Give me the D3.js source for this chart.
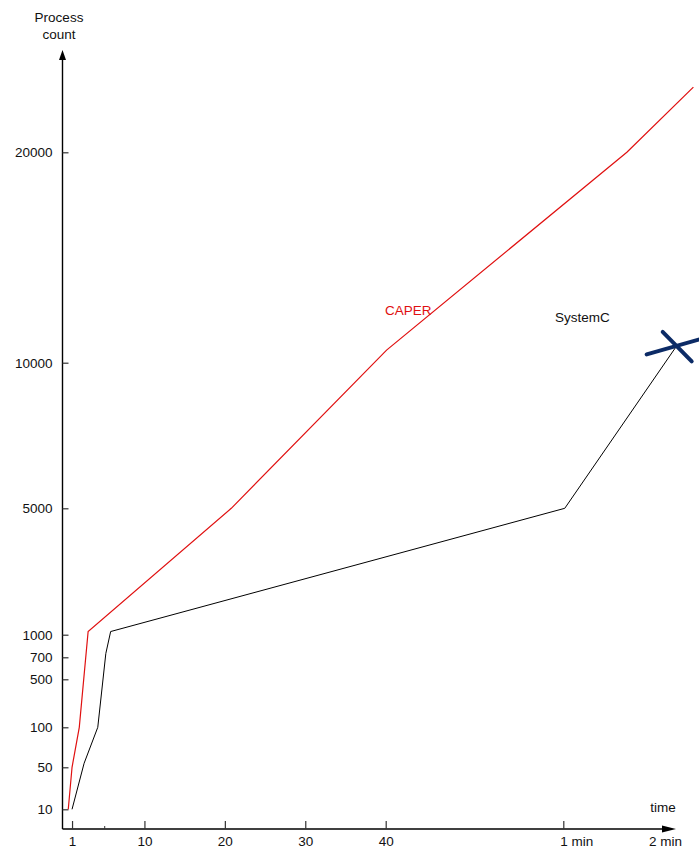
<!DOCTYPE html>
<html>
<head>
<meta charset="utf-8">
<script src="https://cdn.jsdelivr.net/npm/d3@7"></script>
<style>
  body { margin: 0; background: #fff; }
  svg text { font-family: "Liberation Sans", Arial, sans-serif; font-size: 13.5px; fill: #111; }
</style>
</head>
<body>
<svg id="chart" width="699" height="850"></svg>
<script>
// time in seconds, values = process count
const caperTime = [0.53, 1.0, 1.9, 3.0, 20.8, 40.1, 103, 148];
const caperCount = [10, 50, 100, 1100, 5000, 10600, 20000, 23100];
const systemcTime = [1.0, 2.5, 4.2, 5.2, 5.8, 61, 136.7];
const systemcCount = [10, 55, 100, 750, 1100, 5000, 10800];

const yTicks = [10, 50, 100, 500, 700, 1000, 5000, 10000, 20000];
const xTicks = [1, 10, 20, 30, 40, 60, 120];
const xTickLabels = ['1', '10', '20', '30', '40', '1 min', '2 min'];
const xMinorTicks = [5];

const svg = d3.select('#chart');

// broken scales, same as the hand drawn original
const x = d3.scaleLinear().domain([0, 40, 60, 120]).range([64, 385.7, 563.3, 652]);
const y = d3.scaleLinear()
  .domain(yTicks)
  .range([809.3, 767.3, 727.3, 679.3, 657.3, 634.7, 508.3, 362.7, 152.3]);

const X0 = 62.5, Y0 = 829;

// ─── axes ────────────────────────────────────────────────────────────────────
svg.append('line').attr('x1', X0).attr('x2', X0).attr('y1', 58).attr('y2', Y0)
  .attr('stroke', '#000').attr('stroke-width', 1.4);
svg.append('path').attr('d', `M${X0},50 L${X0 - 3.5},60 L${X0 + 3.5},60 Z`).attr('fill', '#000');
svg.append('line').attr('x1', X0).attr('x2', 664).attr('y1', Y0).attr('y2', Y0)
  .attr('stroke', '#000').attr('stroke-width', 1.4);
svg.append('path').attr('d', `M676,${Y0} L662,${Y0 - 3.5} L662,${Y0 + 3.5} Z`).attr('fill', '#000');

const yAxis = svg.append('g').attr('transform', `translate(${X0},0)`)
  .call(d3.axisLeft(y).tickValues(yTicks).tickFormat(d3.format('d')).tickSize(7).tickPadding(3));
yAxis.select('.domain').remove();
yAxis.selectAll('.tick line').attr('x2', 6).attr('stroke', '#333').attr('stroke-width', 1.2);

const xAxis = svg.append('g').attr('transform', `translate(0,${Y0})`)
  .call(d3.axisBottom(x).tickValues(xTicks).tickFormat((d, i) => xTickLabels[i]).tickSize(-8).tickPadding(7));
xAxis.select('.domain').remove();
xAxis.selectAll('.tick line').attr('stroke', '#333').attr('stroke-width', 1.2)
  .attr('display', (d) => (d === 120 ? 'none' : null));
xAxis.selectAll('.tick text')
  .attr('text-anchor', (d) => (d >= 60 ? 'start' : 'middle'))
  .attr('dx', (d) => (d >= 60 ? -3.5 : 0));

svg.append('g').attr('transform', `translate(0,${Y0})`)
  .call(d3.axisBottom(x).tickValues(xMinorTicks).tickFormat('').tickSize(-3))
  .call((g) => g.select('.domain').remove())
  .selectAll('.tick line').attr('stroke', '#333');

// axis titles
svg.append('text').attr('x', 59).attr('y', 22).attr('text-anchor', 'middle').text('Process');
svg.append('text').attr('x', 59).attr('y', 39).attr('text-anchor', 'middle').text('count');
svg.append('text').attr('x', 663).attr('y', 812).attr('text-anchor', 'middle').text('time');

// ─── series ──────────────────────────────────────────────────────────────────
const line = d3.line().x((d) => x(d[0])).y((d) => y(d[1]));

svg.append('path')
  .datum(d3.zip(caperTime, caperCount))
  .attr('fill', 'none').attr('stroke', '#e01010').attr('stroke-width', 1.2)
  .attr('d', line);

svg.append('path')
  .datum(d3.zip(systemcTime, systemcCount))
  .attr('fill', 'none').attr('stroke', '#000').attr('stroke-width', 1)
  .attr('d', line);

// cross at the last SystemC point
const last = systemcTime.length - 1;
const cx = x(systemcTime[last]), cy = y(systemcCount[last]);
const cross = svg.append('g').attr('transform', `translate(${cx},${cy})`)
  .attr('stroke', '#0c2b66').attr('stroke-width', 4).attr('stroke-linecap', 'round');
cross.append('line').attr('x1', -30).attr('y1', 8.5).attr('x2', 28).attr('y2', -8);
cross.append('line').attr('x1', -14).attr('y1', -14).attr('x2', 15).attr('y2', 15.5);

// labels
svg.append('text').attr('x', 385).attr('y', 315).style('fill', '#e01010').text('CAPER');
svg.append('text').attr('x', 555).attr('y', 322).text('SystemC');
</script>
</body>
</html>
